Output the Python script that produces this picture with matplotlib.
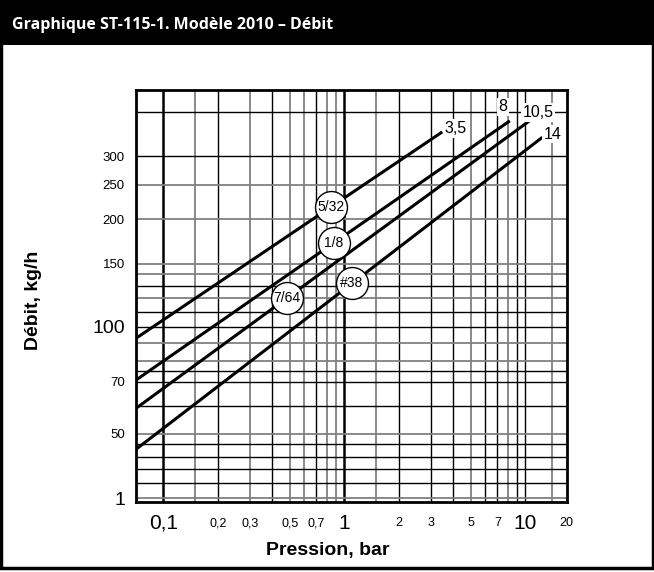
import numpy as np
import matplotlib.pyplot as plt
from matplotlib.patches import Rectangle

# curves: pressure (bar) and flow (kg/h) read at both ends
curve_names = ['3,5', '8', '10,5', '14']
p_start = [0.0705, 0.0705, 0.0705, 0.0705]
q_start = [92.7, 70.8, 59.0, 45.3]
p_end = [3.47, 8.2, 10.6, 12.4]
q_end = [351, 377, 378, 339]

# where the curve names sit
name_p = [4.13, 7.5, 11.7, 14.1]
name_q = [359, 413, 398, 346]

# orifice sizes circled on each curve
orifice_labels = ['5/32', '1/8', '7/64', '#38']
orifice_p = [0.845, 0.873, 0.482, 1.1]

x_ticks = [0.1, 0.2, 0.3, 0.5, 0.7, 1, 2, 3, 5, 7, 10, 16.9]
x_tick_labels = ['0,1', '0,2', '0,3', '0,5', '0,7', '1', '2', '3', '5', '7', '10', '20']
y_ticks = [33, 50, 70, 100, 150, 200, 250, 300]
y_tick_labels = ['1', '50', '70', '100', '150', '200', '250', '300']
big_labels = ['0,1', '1', '10', '100']

# grid
x_grid_thick = [0.1, 1]
x_grid_black = [0.2, 0.4, 0.7, 2, 3, 4, 6, 7, 9, 10]
x_grid_grey = [0.15, 0.3, 0.5, 0.6, 0.8, 0.9, 1.5, 5, 8, 14]
y_grid_black = [400, 300, 130, 110, 100, 75, 70, 60, 47, 43, 40, 36.5]
y_grid_grey = [250, 200, 150, 140, 120, 90, 80, 50, 33]

narrow = ['Liberation Sans', 'DejaVu Sans']

fig = plt.figure(figsize=(6.54, 5.72), dpi=100)
ax = fig.add_axes([136 / 654, 1 - 501.7 / 572, (566.7 - 136) / 654, (501.7 - 90) / 572])
ax.set_xscale('log')
ax.set_yscale('log')
ax.set_xlim(0.0705, 16.9)
ax.set_ylim(32.3, 460)

for v in x_grid_grey:
    ax.axvline(v, color='#808080', lw=1.3, zorder=1)
for v in x_grid_black:
    ax.axvline(v, color='black', lw=1.0, zorder=1)
for v in x_grid_thick:
    ax.axvline(v, color='black', lw=1.8, zorder=1)
for v in y_grid_grey:
    ax.axhline(v, color='#808080', lw=1.3, zorder=1)
for v in y_grid_black:
    ax.axhline(v, color='black', lw=1.0, zorder=1)

for i in range(len(curve_names)):
    ax.plot([p_start[i], p_end[i]], [q_start[i], q_end[i]], color='black', lw=2.2,
            solid_capstyle='butt', zorder=3)
    ax.text(name_p[i], name_q[i], curve_names[i], family=narrow, fontsize=11.5,
            ha='center', va='center', zorder=4,
            bbox=dict(boxstyle='square,pad=0.1', fc='white', ec='none'))
    # position of the circled size along the curve (straight in log-log)
    lq = np.interp(np.log10(orifice_p[i]), [np.log10(p_start[i]), np.log10(p_end[i])],
                   [np.log10(q_start[i]), np.log10(q_end[i])])
    ax.plot(orifice_p[i], 10 ** lq, 'o', ms=23, mfc='white', mec='black', mew=1.0, zorder=5)
    ax.text(orifice_p[i], 10 ** lq, orifice_labels[i], family=narrow, fontsize=10,
            ha='center', va='center', zorder=6)

ax.minorticks_off()
ax.set_xticks(x_ticks)
ax.set_xticklabels(x_tick_labels, family=narrow, va='center')
ax.set_yticks(y_ticks)
ax.set_yticklabels(y_tick_labels, family=narrow)
for t in ax.get_xticklabels():
    t.set_fontsize(15 if t.get_text() in big_labels else 9)
for t in ax.get_yticklabels():
    t.set_fontsize(14 if t.get_text() in big_labels else 9.5)
ax.tick_params(axis='x', length=0, pad=15.5)
ax.tick_params(axis='y', length=0, pad=8)
for s in ax.spines.values():
    s.set_linewidth(2)
    s.set_zorder(7)

fig.text(328 / 654, 1 - 550 / 572, 'Pression, bar', family=narrow, fontweight='bold',
         fontsize=14, ha='center', va='center')
fig.text(33 / 654, 1 - 300 / 572, 'Débit, kg/h', family=narrow, fontweight='bold',
         fontsize=14, rotation=90, ha='center', va='center')

# title bar and outer frame
fig.patches.append(Rectangle((0, 1 - 45 / 572), 1, 45 / 572, transform=fig.transFigure,
                             fc='black', ec='none', zorder=0))
fig.patches.append(Rectangle((0.002, 1 - 568 / 572), 0.996, 566 / 572, transform=fig.transFigure,
                             fill=False, ec='black', lw=2.5, zorder=0))
fig.text(12 / 654, 1 - 25 / 572, 'Graphique ST-115-1. Modèle 2010 – Débit', family=['Open Sans', 'DejaVu Sans'],
         fontweight='bold', fontsize=11.5, color='white', ha='left', va='center')

fig.savefig('out.png', dpi=100)
